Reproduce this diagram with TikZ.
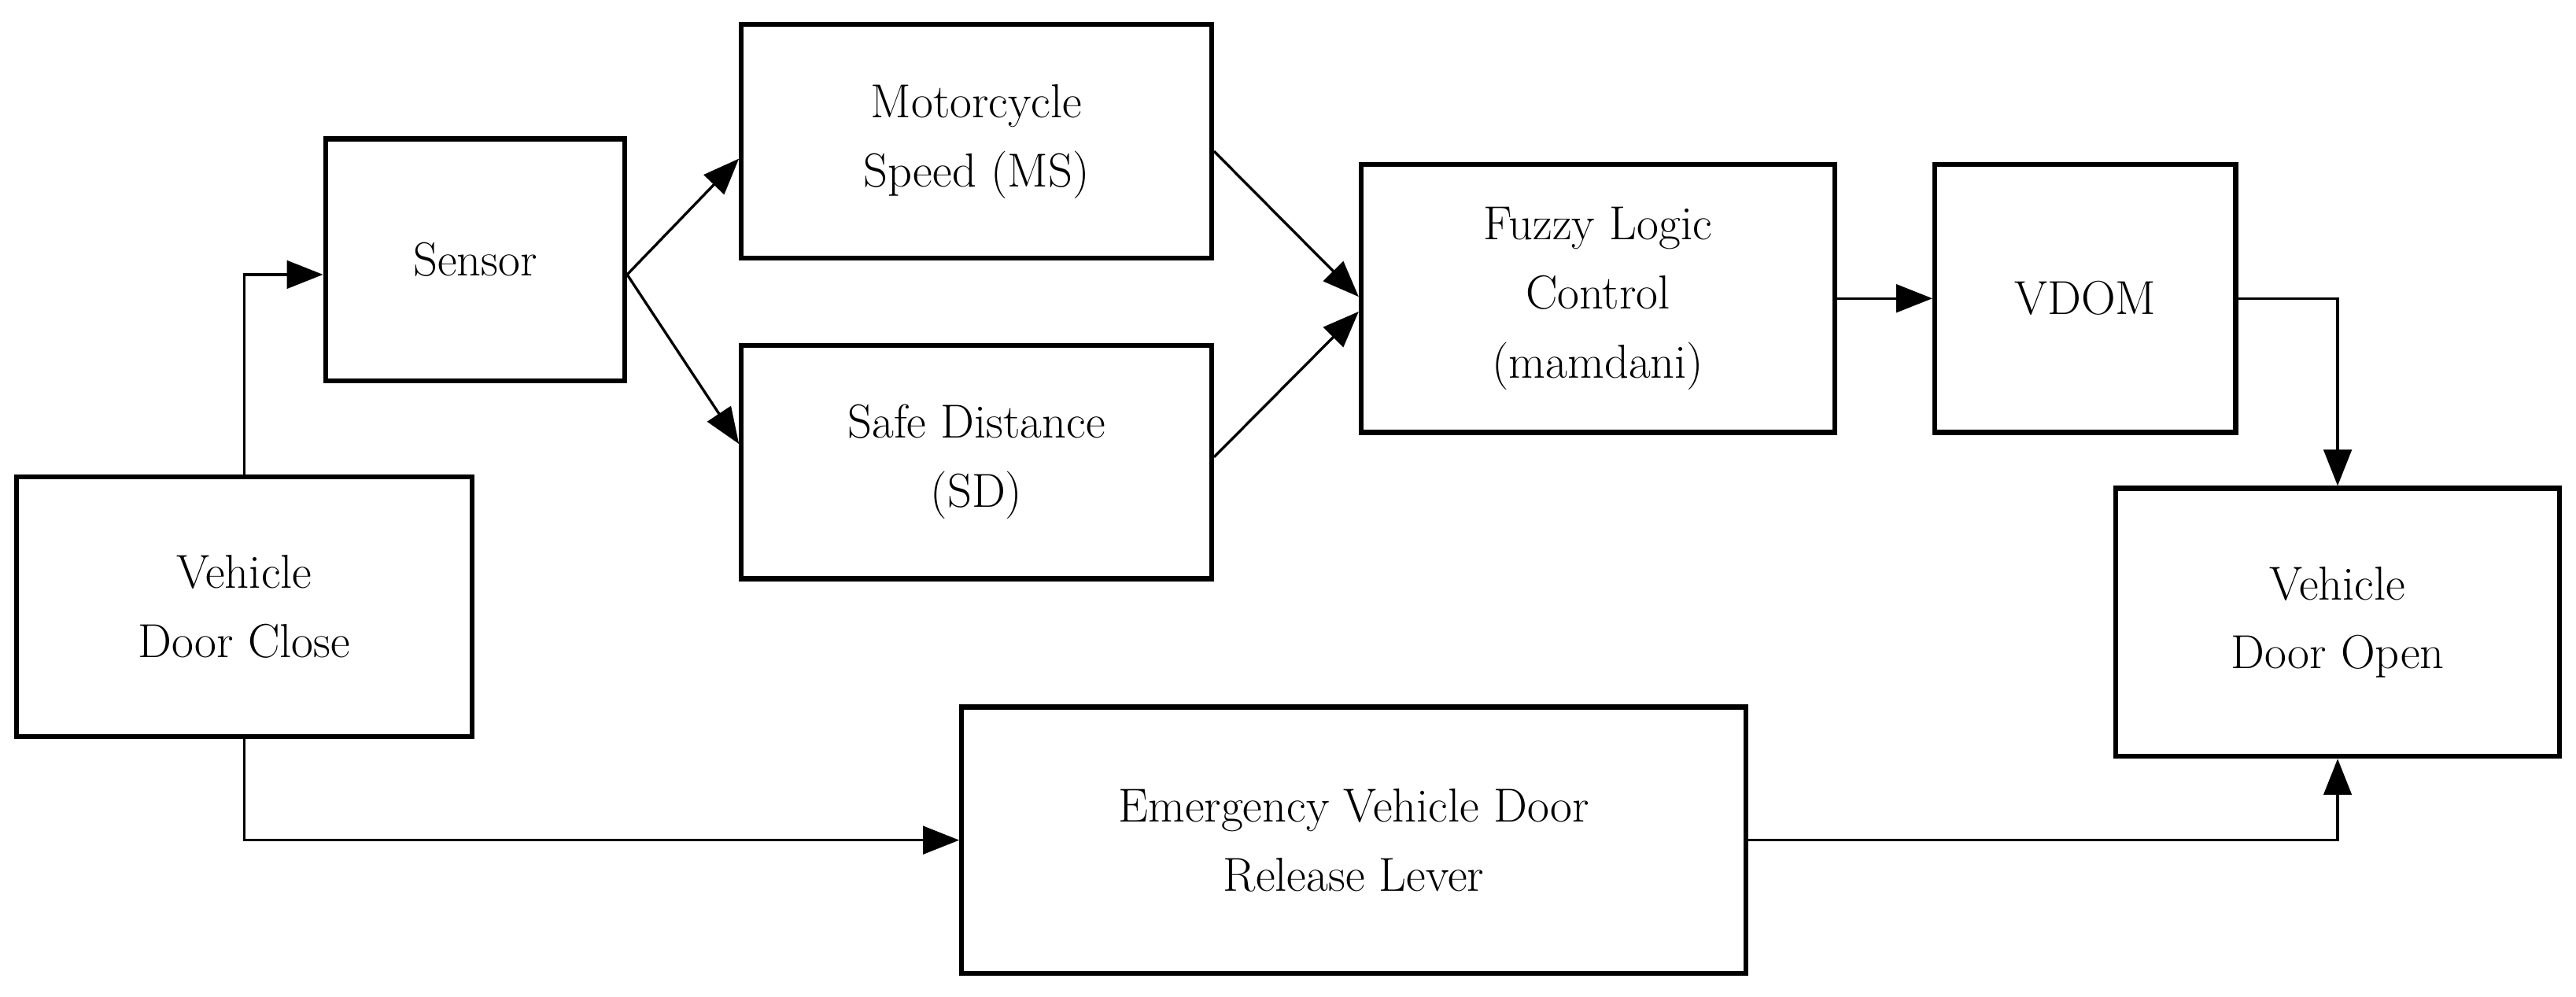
\documentclass[tikz,border=0pt]{standalone}
\usetikzlibrary{arrows.meta}
\begin{document}
\begin{tikzpicture}[x=1pt,y=-1pt,
 box/.style={draw,line width=3pt,align=center,font=\fontsize{29}{42}\selectfont,inner sep=0},
 arr/.style={line width=1.6pt,-{Triangle[length=22pt,width=17pt]}}]
\useasboundingbox (0,0) rectangle (1567,606);
\node[box,minimum width=182pt,minimum height=147pt] (sen) at (289,158) {Sensor};
\node[box,minimum width=286pt,minimum height=142pt] (ms) at (594,86) {Motorcycle\\Speed (MS)};
\node[box,minimum width=286pt,minimum height=142pt] (sd) at (594,281) {Safe Distance\\(SD)};
\node[box,minimum width=288pt,minimum height=163pt] (fl) at (972,181.5) {Fuzzy Logic\\Control\\(mamdani)};
\node[box,minimum width=183pt,minimum height=163pt] (vd) at (1268.5,181.5) {VDOM};
\node[box,minimum width=277pt,minimum height=158pt] (dc) at (148.5,369) {Vehicle\\Door Close};
\node[box,minimum width=270pt,minimum height=163pt] (do) at (1422,378.5) {Vehicle\\Door Open};
\node[box,minimum width=477pt,minimum height=162pt] (em) at (823.5,511) {Emergency Vehicle Door\\Release Lever};
\coordinate (s0) at ([yshift=-9pt]sen.east);
\draw[arr] (dc.north) |- ([yshift=-9pt]sen.west);
\draw[arr] (s0) -- ([yshift=62pt]ms.south west);
\draw[arr] (s0) -- ([yshift=11pt]sd.west);
\draw[arr] ([yshift=-6pt]ms.east) -- ([yshift=1pt]fl.west);
\draw[arr] ([yshift=3pt]sd.east) -- ([yshift=-8pt]fl.west);
\draw[arr] (fl.east) -- (vd.west);
\draw[arr] (vd.east) -| (do.north);
\draw[arr] (dc.south) |- (em.west);
\draw[arr] (em.east) -| (do.south);
\end{tikzpicture}
\end{document}
